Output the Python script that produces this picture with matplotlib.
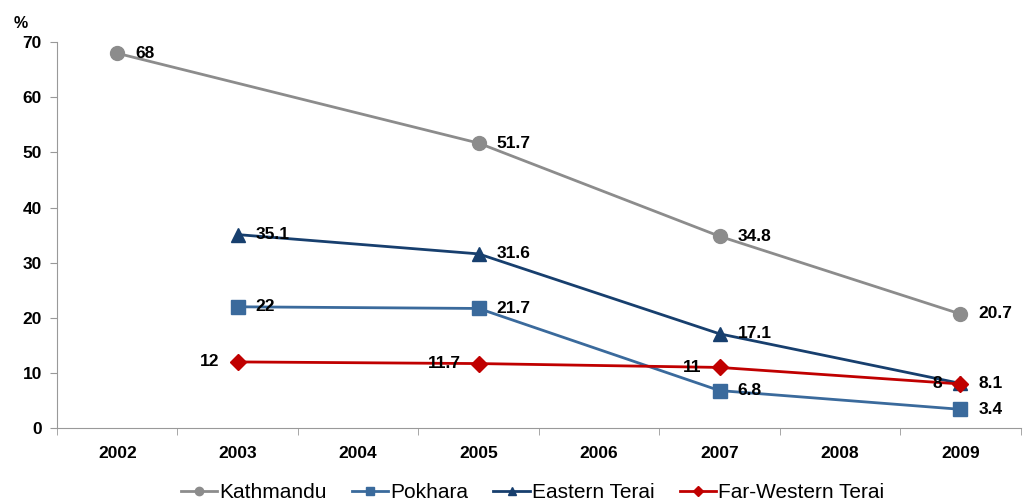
import numpy as np
import matplotlib.pyplot as plt

plt.rcParams['font.family'] = ['Liberation Sans', 'DejaVu Sans']

years = ["2002", "2003", "2004", "2005", "2006", "2007", "2008", "2009"]

kathmandu_years = ["2002", "2005", "2007", "2009"]
kathmandu = [68, 51.7, 34.8, 20.7]

other_years = ["2003", "2005", "2007", "2009"]
pokhara = [22, 21.7, 6.8, 3.4]
eastern_terai = [35.1, 31.6, 17.1, 8.1]
far_western_terai = [12, 11.7, 11, 8]


def main():
    fig = plt.figure(figsize=(10.24, 5.03), dpi=100)
    ax = fig.add_axes([0.0557, 0.149, 0.941, 0.767])

    xk = [years.index(y) for y in kathmandu_years]
    xo = [years.index(y) for y in other_years]

    # (name, x, values, colour, marker, size, label side)
    series = [
        ("Kathmandu", xk, kathmandu, "#8c8c8c", "o", 10, "right"),
        ("Pokhara", xo, pokhara, "#3a6a9c", "s", 10, "right"),
        ("Eastern Terai", xo, eastern_terai, "#173f6e", "^", 10, "right"),
        ("Far-Western Terai", xo, far_western_terai, "#c00000", "D", 8, "left"),
    ]

    for name, xs, vals, col, mk, ms, side in series:
        ax.plot(xs, vals, color=col, lw=2, marker=mk, markersize=ms,
                label=name, zorder=3)
        for x, v in zip(xs, vals):
            if side == "right":
                ax.annotate(f"{v:g}", (x, v), xytext=(13, 0), textcoords="offset points",
                            ha="left", va="center", fontsize=12.5, fontweight="bold", zorder=4)
            else:
                ax.annotate(f"{v:g}", (x, v), xytext=(-13, 0), textcoords="offset points",
                            ha="right", va="center", fontsize=12.5, fontweight="bold", zorder=4)

    ax.set_xlim(-0.5, len(years) - 0.5)
    ax.set_ylim(0, 70)
    ax.set_yticks(np.arange(0, 71, 10))
    ax.set_xticks(np.arange(len(years)))
    ax.set_xticklabels(years, fontsize=12.5, fontweight="bold")
    ax.set_xticks(np.arange(len(years) + 1) - 0.5, minor=True)
    ax.tick_params(axis="x", which="major", length=0, pad=13)
    ax.tick_params(axis="x", which="minor", length=5, color="#999999")
    ax.tick_params(axis="y", length=5, color="#999999", labelsize=12.5, pad=6)
    for lbl in ax.get_yticklabels():
        lbl.set_fontweight("bold")

    for s in ["top", "right"]:
        ax.spines[s].set_visible(False)
    for s in ["left", "bottom"]:
        ax.spines[s].set_color("#999999")

    fig.text(0.013, 0.945, "%", fontsize=11.5, fontweight="bold")

    fig.legend(loc="lower center", bbox_to_anchor=(0.52, -0.035), ncol=4,
               frameon=False, fontsize=15, handlelength=1.75, markerscale=0.6,
               columnspacing=1.2, handletextpad=0.1)

    plt.savefig("out.png", dpi=100)


if __name__ == "__main__":
    main()
